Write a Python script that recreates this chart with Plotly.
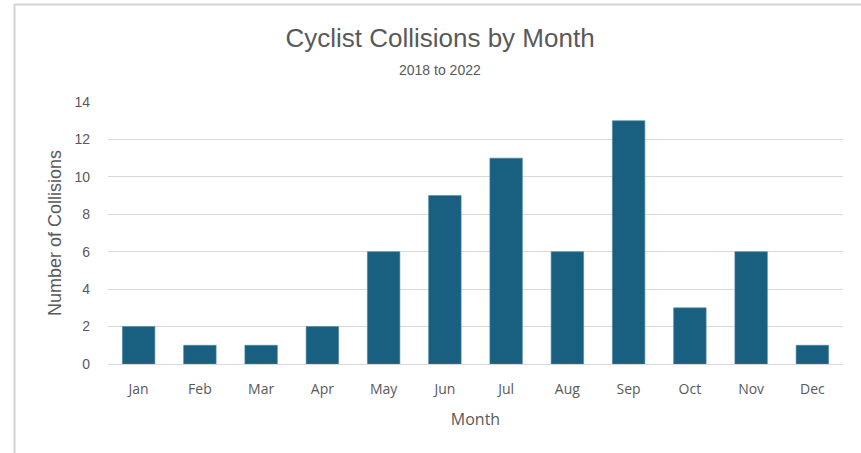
import plotly.graph_objects as go

months = ["Jan", "Feb", "Mar", "Apr", "May", "Jun", "Jul", "Aug", "Sep", "Oct", "Nov", "Dec"]
collisions = [2, 1, 1, 2, 6, 9, 11, 6, 13, 3, 6, 1]
y_ticks = [0, 2, 4, 6, 8, 10, 12, 14]

W, H = 861, 453
L, R, T, B = 108, 18, 102, 89
pw, ph = W - L - R, H - T - B

def px(x):
    return (x - L) / pw

def py(y):
    return (H - B - y) / ph

fig = go.Figure(go.Bar(
    x=months, y=collisions, width=0.53,
    marker=dict(color="#185f80", line=dict(color="#4a86a3", width=0.6)),
))

fig.update_layout(
    width=W, height=H,
    margin=dict(l=L, r=R, t=T, b=B, autoexpand=False),
    paper_bgcolor="white", plot_bgcolor="white",
    showlegend=False,
    title=dict(text="Cyclist Collisions by Month", x=px(440), xanchor="center", xref="paper",
               y=1 - 38 / H, yanchor="middle", automargin=False,
               font=dict(family="Liberation Sans Narrow, Arial Narrow, sans-serif", size=26, color="#595959")),
    annotations=[dict(text="2018 to 2022", xref="paper", yref="paper",
                      x=px(440), y=py(70), xanchor="center", yanchor="middle", showarrow=False,
                      font=dict(family="Liberation Sans Narrow, sans-serif", size=14, color="#595959"))],
    shapes=[
        dict(type="line", xref="paper", yref="paper", x0=px(14), x1=px(861), y0=py(4.5), y1=py(4.5),
             line=dict(color="#d4d4d4", width=2)),
        dict(type="line", xref="paper", yref="paper", x0=px(14.5), x1=px(14.5), y0=py(4), y1=py(453),
             line=dict(color="#d4d4d4", width=2)),
    ],
    xaxis=dict(
        automargin=False,
        showgrid=False, showline=True, linecolor="#d9d9d9", linewidth=1,
        ticks="", ticklabelstandoff=12,
        tickfont=dict(family="Open Sans, sans-serif", size=14, color="#595959"),
        title=dict(text="Month", font=dict(family="Open Sans, sans-serif", size=16, color="#595959"), standoff=17),
    ),
    yaxis=dict(
        automargin=False,
        range=[0, 14], tickvals=y_ticks, showgrid=True, gridcolor="#d9d9d9", gridwidth=1,
        zeroline=False, showline=False, ticks="",
        tickfont=dict(family="Liberation Sans, Arial, sans-serif", size=14, color="#595959"),
        ticklabelstandoff=17,
        title=dict(text="Number of Collisions", font=dict(family="Liberation Sans, Arial, sans-serif", size=18, color="#595959"), standoff=8),
    ),
)

fig.write_html("out.html", config={"displayModeBar": False},
               post_script="document.body.style.margin='0';")
